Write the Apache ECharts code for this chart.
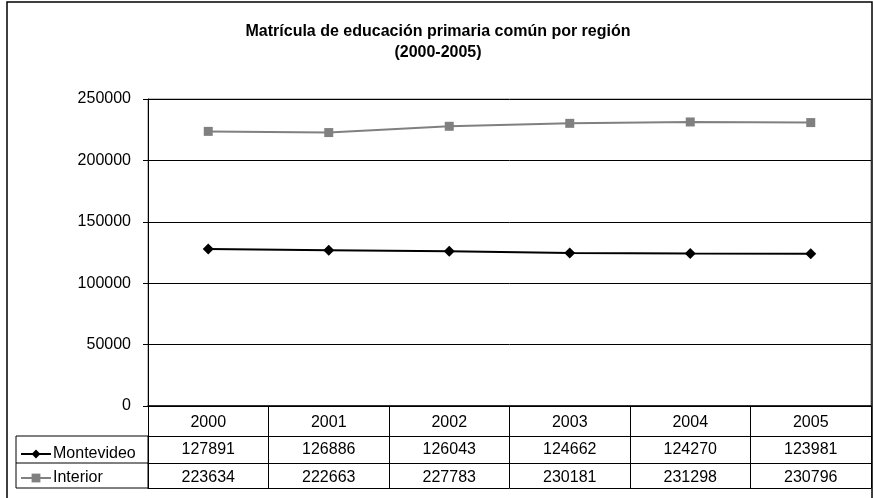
<!DOCTYPE html>
<html>
<head>
<meta charset="utf-8">
<script src="https://cdn.jsdelivr.net/npm/echarts@6/dist/echarts.min.js"></script>
<style>
  html, body { margin: 0; padding: 0; background: #fff; }
  #chart { width: 873px; height: 498px; }
</style>
</head>
<body>
<div id="chart"></div>
<script>
// datos del gráfico
var years = ['2000', '2001', '2002', '2003', '2004', '2005'];
var montevideo = [127891, 126886, 126043, 124662, 124270, 123981];
var interior = [223634, 222663, 227783, 230181, 231298, 230796];
var seriesNames = ['Montevideo', 'Interior'];
var yTicks = [0, 50000, 100000, 150000, 200000, 250000];

var font = 'Liberation Sans, Arial, sans-serif';

// fila de la tabla como eje de categorías extra
function tableAxis(values, offset, margin) {
    return {
        type: 'category',
        position: 'bottom',
        offset: offset,
        data: values.map(String),
        axisLine: {show: true, lineStyle: {color: '#000', width: 1}},
        axisTick: {show: false},
        axisLabel: {show: true, interval: 0, margin: margin, color: '#000', fontSize: 16, fontFamily: font}
    };
}

var charts = echarts.init(document.getElementById('chart'));
charts.setOption({
    animation: false,
    backgroundColor: '#fff',
    title: {
        text: 'Matrícula de educación primaria común por región\n(2000-2005)',
        left: 433,
        top: 16,
        textAlign: 'center',
        textStyle: {fontSize: 16, fontWeight: 'bold', fontFamily: font, color: '#000', lineHeight: 21}
    },
    legend: {
        data: seriesNames,
        orient: 'vertical',
        left: 15,
        top: 441,
        itemWidth: 30,
        itemHeight: 11,
        itemGap: 8,
        textStyle: {fontSize: 16, fontFamily: font, color: '#000', padding: [0, 0, 0, -3]}
    },
    grid: {
        left: 148,
        right: 2,
        top: 99,
        bottom: 92,
        show: true,
        borderColor: '#808080',
        borderWidth: 1
    },
    graphic: [
        // marco exterior
        {type: 'rect', shape: {x: 7, y: 2, width: 865, height: 497}, style: {fill: null, stroke: '#000', lineWidth: 1.5}, z: 0},
        // columna de nombres de la tabla
        {type: 'rect', shape: {x: 16, y: 436, width: 132, height: 52}, style: {fill: null, stroke: '#000', lineWidth: 1}, z: 10},
        {type: 'line', shape: {x1: 16, y1: 463, x2: 148, y2: 463}, style: {stroke: '#000', lineWidth: 1}, z: 10}
    ],
    xAxis: [
        {
            type: 'category',
            position: 'bottom',
            data: years,
            axisLine: {show: true, lineStyle: {color: '#000', width: 1.5}},
            axisTick: {show: true, interval: 0, length: 82, lineStyle: {color: '#000', width: 1}},
            axisLabel: {interval: 0, margin: 9, color: '#000', fontSize: 16, fontFamily: font}
        },
        tableAxis(montevideo, 30, 6),
        tableAxis(interior, 57, 7),
        tableAxis(['', '', '', '', '', ''], 82, 0)
    ],
    yAxis: {
        type: 'value',
        min: yTicks[0],
        max: yTicks[yTicks.length - 1],
        interval: yTicks[1] - yTicks[0],
        axisLine: {show: true, lineStyle: {color: '#000', width: 1}},
        axisTick: {show: true, length: 5, lineStyle: {color: '#000'}},
        axisLabel: {margin: 17, color: '#000', fontSize: 16, fontFamily: font, padding: [6, 0, 0, 0],
            formatter: function (v) { return String(v); }},
        splitLine: {show: true, lineStyle: {color: '#000', width: 1}}
    },
    series: [
        {
            name: seriesNames[0],
            type: 'line',
            data: montevideo,
            symbol: 'diamond',
            symbolSize: 11,
            itemStyle: {color: '#000'},
            lineStyle: {color: '#000', width: 2}
        },
        {
            name: seriesNames[1],
            type: 'line',
            data: interior,
            symbol: 'rect',
            symbolSize: 9,
            itemStyle: {color: '#808080'},
            lineStyle: {color: '#808080', width: 2}
        }
    ]
});
</script>
</body>
</html>
